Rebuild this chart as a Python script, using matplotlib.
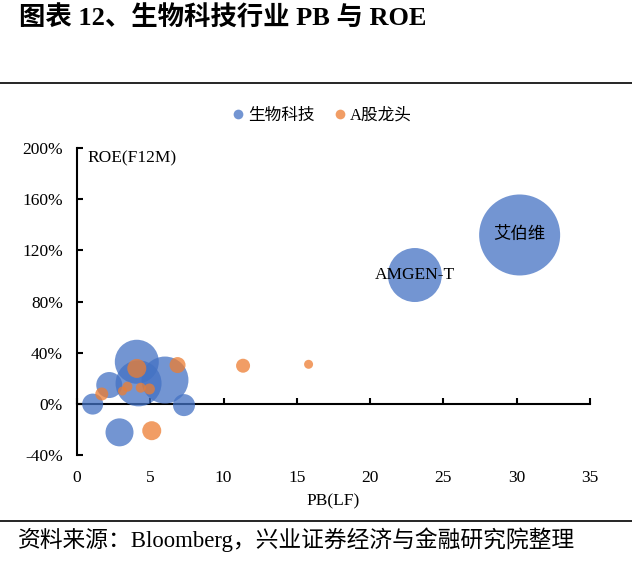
import matplotlib
matplotlib.use("Agg")
import matplotlib.pyplot as plt
from matplotlib.lines import Line2D
from matplotlib.ticker import FuncFormatter

plt.rcParams['font.family'] = ['Liberation Serif', 'Noto Sans CJK SC', 'DejaVu Sans']

# ---- data ----
series_names = ["生物科技", "A股龙头"]
bio_pb = [1.07, 2.9, 7.3, 2.2, 4.08, 6.0, 4.2, 23.05, 30.2]
bio_roe = [-0.2, -22.3, -1.0, 14.7, 32.9, 18.6, 16.0, 100.7, 132.0]
bio_size = [21, 28, 22, 26, 44, 47, 46, 54, 81]          # relative bubble diameter
bio_labels = {7: "AMGEN-T", 8: "艾伯维"}

a_pb = [4.08, 6.86, 3.44, 3.1, 4.35, 4.94, 5.1, 1.69, 11.33, 15.8]
a_roe = [27.7, 30.3, 13.4, 10.0, 12.6, 11.6, -21.0, 7.7, 29.8, 30.9]
a_size = [19, 16, 10, 9, 10, 11, 19, 13, 14, 9]

x_ticks = [0, 5, 10, 15, 20, 25, 30, 35]
y_ticks = [-40, 0, 40, 80, 120, 160, 200]

title = "图表 12、生物科技行业 PB 与 ROE"
footer = "资料来源：Bloomberg，兴业证券经济与金融研究院整理"
x_label = "PB(LF)"
y_label = "ROE(F12M)"

blue = "#4472C4"
orange = "#ED7D31"

W, H = 632, 561
fig = plt.figure(figsize=(W / 100, H / 100), dpi=100)
ax = fig.add_axes([77 / W, 1 - 455 / H, (590 - 77) / W, (455 - 148) / H])

k = 0.72 ** 2
ax.scatter(bio_pb, bio_roe, s=[d ** 2 * k for d in bio_size], color=blue,
           alpha=0.75, linewidths=0, zorder=2)
ax.scatter(a_pb, a_roe, s=[d ** 2 * k for d in a_size], color=orange,
           alpha=0.75, linewidths=0, zorder=3)

for i, txt in bio_labels.items():
    ax.text(bio_pb[i], bio_roe[i], txt, ha='center', va='center', fontsize=12.5,
            color='black', zorder=5)

ax.set_xlim(0, 35)
ax.set_ylim(-40, 200)
ax.set_xticks(x_ticks)
ax.set_yticks(y_ticks)
ax.yaxis.set_major_formatter(FuncFormatter(lambda v, p: f"{v:.0f}%"))

for s in ['top', 'right']:
    ax.spines[s].set_visible(False)
ax.spines['left'].set_linewidth(1.5)
ax.spines['bottom'].set_position(('data', 0))
ax.spines['bottom'].set_linewidth(1.5)
ax.spines['bottom'].set_zorder(1)
ax.tick_params(axis='y', direction='in', length=4, width=1.5, pad=10, labelsize=12.5)
ax.tick_params(axis='x', direction='in', length=4, width=1.5, labelbottom=False)

sec = ax.secondary_xaxis('bottom')
sec.set_xticks(x_ticks)
sec.spines['bottom'].set_visible(False)
sec.tick_params(axis='x', length=0, pad=11, labelsize=12.5)
sec.set_xlabel(x_label, fontsize=12.5, labelpad=5)

ax.text(0.02, 0.965, y_label, transform=ax.transAxes, ha='left', va='center', fontsize=12.5)

handles = [Line2D([], [], marker='o', linestyle='none', markersize=7, markeredgewidth=0,
                  color=c, alpha=0.75) for c in (blue, orange)]
fig.legend(handles, series_names, loc='center', bbox_to_anchor=(321 / W, 1 - 116 / H),
           ncol=2, frameon=False, fontsize=12, handletextpad=0.1, columnspacing=1.0,
           handlelength=1.0)

fig.text(19 / W, 1 - 18 / H, title, ha='left', va='center', fontsize=19, fontweight='bold')
fig.add_artist(Line2D([0, 1], [1 - 83 / H, 1 - 83 / H], transform=fig.transFigure,
                      color='black', linewidth=1.2))
fig.add_artist(Line2D([0, 1], [1 - 521 / H, 1 - 521 / H], transform=fig.transFigure,
                      color='black', linewidth=1.2))
fig.text(18 / W, 1 - 540 / H, footer, ha='left', va='center', fontsize=16.4)

fig.savefig("out.png", dpi=100)
